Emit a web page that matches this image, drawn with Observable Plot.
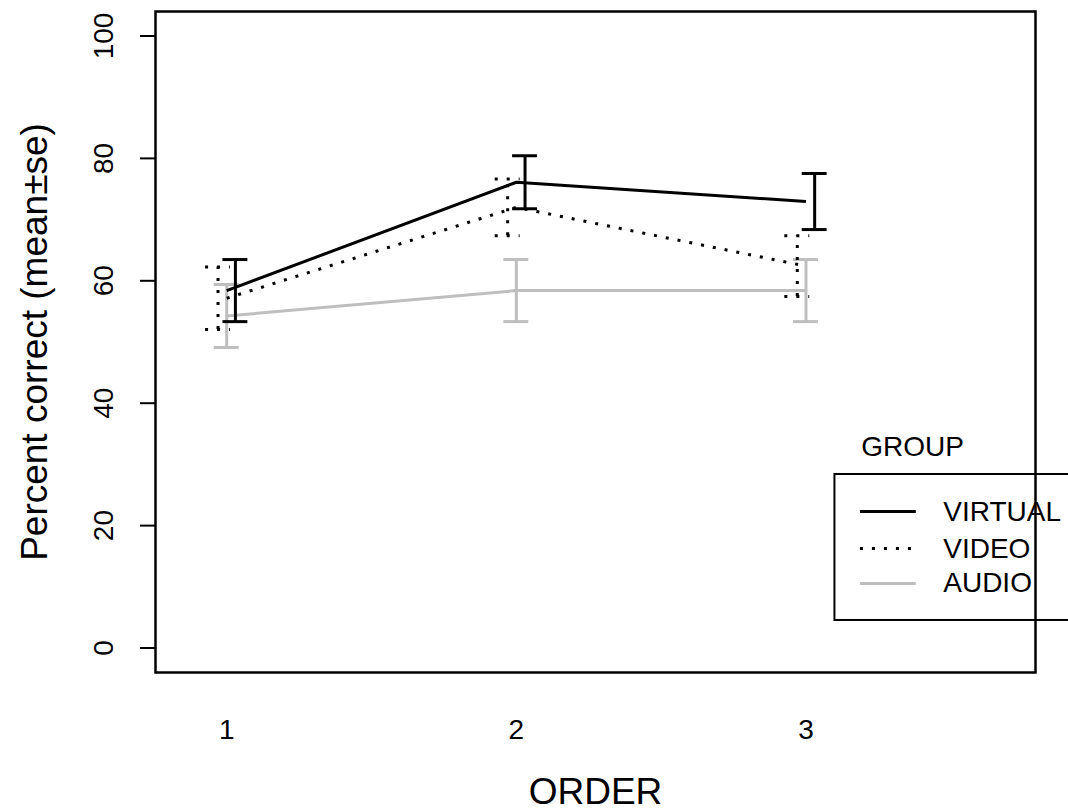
<!DOCTYPE html>
<html>
<head>
<meta charset="utf-8">
<script src="https://cdn.jsdelivr.net/npm/d3@7"></script>
<script src="https://cdn.jsdelivr.net/npm/@observablehq/plot@0.6"></script>
<style>
  html, body { margin: 0; padding: 0; background: white; overflow: hidden; }
  #chart svg { display: block; }
</style>
</head>
<body>
<div id="chart"></div>
<script>
// ---- data ----
const order = [1, 2, 3];
const groups = ["VIRTUAL", "VIDEO", "AUDIO"];
const virtualMean = [58.4, 76.1, 72.95];
const virtualSe   = [5.07, 4.33, 4.58];
const videoMean   = [57.15, 72.0, 62.4];
const videoSe     = [5.1, 4.65, 4.98];
const audioMean   = [54.25, 58.4, 58.4];
const audioSe     = [5.15, 5.07, 5.07];
const yTicks = [0, 20, 40, 60, 80, 100];
const xLabel = "ORDER";
const yLabel = "Percent correct (mean±se)";
const legendTitle = "GROUP";

// ---- table ----
const means = {VIRTUAL: virtualMean, VIDEO: videoMean, AUDIO: audioMean};
const ses = {VIRTUAL: virtualSe, VIDEO: videoSe, AUDIO: audioSe};
const rows = groups.flatMap(g => order.map((o, i) => ({group: g, order: o, mean: means[g][i], se: ses[g][i]})));

// ---- styles ----
const style = {
  VIRTUAL: {stroke: "black", dash: null, off: 0.03},
  VIDEO:   {stroke: "black", dash: "3,9", off: -0.03},
  AUDIO:   {stroke: "#bebebe", dash: null, off: 0}
};
const capHalf = 0.043;
const drawOrder = ["AUDIO", "VIDEO", "VIRTUAL"];

// legend layout (data units)
const leg = {x1: 3.1, x2: 4.0, y1: 4.5, y2: 28.35, lx1: 3.188, lx2: 3.381, tx: 3.474, titleX: 3.191, titleY: 32.9};
const legY = {VIRTUAL: 22.3, VIDEO: 16.25, AUDIO: 10.54};

const font = "'Liberation Sans', Arial, Helvetica, sans-serif";

const marks = [];
for (const g of drawOrder) {
  const s = style[g];
  const d = rows.filter(r => r.group === g);
  const common = {stroke: s.stroke, strokeWidth: 3, strokeDasharray: s.dash, strokeLinecap: "butt"};
  marks.push(Plot.line(d, {x: "order", y: "mean", ...common, strokeLinejoin: "miter"}));
  marks.push(Plot.ruleX(d, {x: r => r.order + s.off, y1: r => r.mean - r.se, y2: r => r.mean + r.se, ...common}));
  marks.push(Plot.ruleY(d, {y: r => r.mean + r.se, x1: r => r.order + s.off - capHalf, x2: r => r.order + s.off + capHalf, ...common}));
  marks.push(Plot.ruleY(d, {y: r => r.mean - r.se, x1: r => r.order + s.off - capHalf, x2: r => r.order + s.off + capHalf, ...common}));
}

// legend
marks.push(Plot.rect([0], {x1: leg.x1, x2: leg.x2, y1: leg.y1, y2: leg.y2, fill: "white", stroke: "black", strokeWidth: 2}));
for (const g of groups) {
  const s = style[g];
  marks.push(Plot.ruleY([legY[g]], {y: d => d, x1: leg.lx1, x2: leg.lx2, stroke: s.stroke, strokeWidth: 3, strokeDasharray: s.dash, strokeLinecap: "butt"}));
}
marks.push(Plot.text(groups, {x: leg.tx, y: g => legY[g], text: d => d, textAnchor: "start", lineAnchor: "middle", fontSize: 28, fill: "black"}));
marks.push(Plot.text([legendTitle], {x: leg.titleX, y: leg.titleY, text: d => d, textAnchor: "start", lineAnchor: "middle", fontSize: 28, fill: "black"}));

// frame
marks.push(Plot.frame({stroke: "black", strokeWidth: 2.5}));

// y axis ticks & labels
marks.push(Plot.axisY(yTicks, {tickSize: 15, tickFormat: () => "", label: null, strokeWidth: 2, stroke: "black"}));
marks.push(Plot.text(yTicks, {y: d => d, text: d => String(d), frameAnchor: "left", dx: -43, rotate: -90, lineAnchor: "bottom", textAnchor: "middle", fontSize: 28, fill: "black"}));

// x tick labels
marks.push(Plot.text(order, {x: d => d, text: d => String(d), frameAnchor: "bottom", dy: 66, lineAnchor: "bottom", textAnchor: "middle", fontSize: 28, fill: "black"}));

// axis titles
marks.push(Plot.text([xLabel], {text: d => d, frameAnchor: "bottom", dy: 131, lineAnchor: "bottom", textAnchor: "middle", fontSize: 37, fill: "black"}));
marks.push(Plot.text([yLabel], {text: d => d, frameAnchor: "left", dx: -109, rotate: -90, lineAnchor: "bottom", textAnchor: "middle", fontSize: 37, fill: "black"}));

const chart = Plot.plot({
  width: 1068,
  height: 810,
  marginLeft: 155,
  marginRight: 33,
  marginTop: 11,
  marginBottom: 138,
  style: {fontFamily: font, background: "white", color: "black", overflow: "visible"},
  x: {domain: [0.7541, 3.7925], axis: null},
  y: {domain: [-4, 104], axis: null},
  marks
});
document.getElementById("chart").appendChild(chart);
</script>
</body>
</html>
